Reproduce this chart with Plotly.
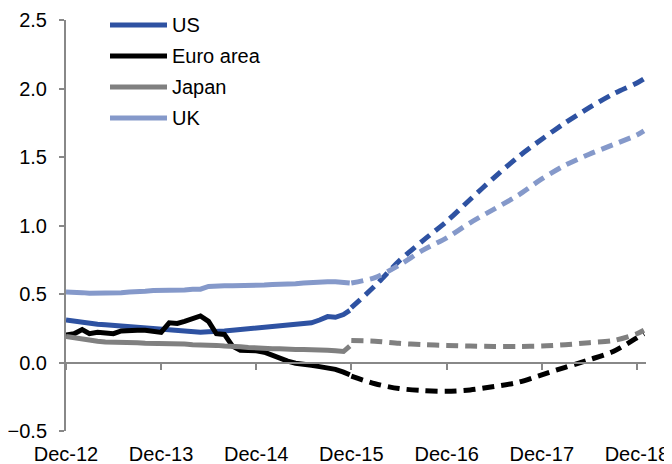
import pandas as pd
import plotly.graph_objects as go

# ---------------- data ----------------
series_names = ["US", "Euro area", "Japan", "UK"]
series_colors = ["#2E52A2", "#000000", "#808080", "#8599CA"]

# history (solid): month starts Dec-12 .. Nov-15 plus a final late-Nov-15 point
hist_dates = list(pd.date_range("2012-12-01", periods=36, freq="MS").strftime("%Y-%m-%d")) + ["2015-11-25"]
us_hist = [0.31, 0.30, 0.29, 0.285, 0.28, 0.275, 0.27, 0.265, 0.26, 0.255, 0.25, 0.245,
           0.24, 0.24, 0.235, 0.23, 0.225, 0.22, 0.225, 0.225, 0.23, 0.235, 0.24, 0.245,
           0.25, 0.255, 0.265, 0.27, 0.275, 0.28, 0.285, 0.29, 0.31, 0.335, 0.33, 0.35, 0.38]
euro_hist = [0.20, 0.21, 0.24, 0.21, 0.22, 0.215, 0.21, 0.23, 0.235, 0.235, 0.235, 0.225,
             0.22, 0.29, 0.285, 0.30, 0.32, 0.34, 0.30, 0.21, 0.205, 0.12, 0.09, 0.09,
             0.085, 0.075, 0.05, 0.03, 0.01, -0.005, -0.01, -0.02, -0.03, -0.04, -0.05, -0.07, -0.09]
japan_hist = [0.19, 0.18, 0.17, 0.16, 0.155, 0.15, 0.15, 0.145, 0.145, 0.145, 0.14, 0.14,
              0.14, 0.135, 0.135, 0.135, 0.13, 0.13, 0.13, 0.125, 0.12, 0.12, 0.115, 0.11,
              0.105, 0.10, 0.10, 0.10, 0.095, 0.095, 0.095, 0.095, 0.09, 0.09, 0.085, 0.08, 0.12]
uk_hist = [0.515, 0.515, 0.51, 0.505, 0.505, 0.505, 0.51, 0.51, 0.515, 0.515, 0.52, 0.525,
           0.525, 0.53, 0.53, 0.53, 0.535, 0.535, 0.555, 0.56, 0.56, 0.56, 0.56, 0.565,
           0.565, 0.565, 0.57, 0.57, 0.575, 0.575, 0.58, 0.585, 0.59, 0.59, 0.59, 0.585, 0.58]

# forward curves (dashed): quarterly Dec-15 .. Dec-18 plus end point
fcst_dates = list(pd.date_range("2015-12-01", periods=13, freq="3MS").strftime("%Y-%m-%d")) + ["2018-12-28"]
us_fcst = [0.40, 0.56, 0.74, 0.89, 1.03, 1.19, 1.35, 1.50, 1.63, 1.75, 1.86, 1.96, 2.04, 2.07]
euro_fcst = [-0.10, -0.155, -0.19, -0.205, -0.21, -0.20, -0.175, -0.145, -0.09, -0.035, 0.02, 0.08, 0.18, 0.21]
japan_fcst = [0.16, 0.155, 0.14, 0.13, 0.125, 0.12, 0.117, 0.117, 0.12, 0.13, 0.145, 0.16, 0.21, 0.235]
uk_fcst = [0.58, 0.62, 0.71, 0.82, 0.91, 1.02, 1.12, 1.22, 1.34, 1.44, 1.52, 1.59, 1.66, 1.69]

x_ticks = ["2012-12-01", "2013-12-01", "2014-12-01", "2015-12-01", "2016-12-01", "2017-12-01", "2018-12-01"]
x_tick_labels = ["Dec-12", "Dec-13", "Dec-14", "Dec-15", "Dec-16", "Dec-17", "Dec-18"]
y_ticks = [-0.5, 0.0, 0.5, 1.0, 1.5, 2.0, 2.5]
y_range = [-0.5, 2.5]
x_range = ["2012-12-01", "2019-01-05"]

hist_vals = [us_hist, euro_hist, japan_hist, uk_hist]
fcst_vals = [us_fcst, euro_fcst, japan_fcst, uk_fcst]

FONT = "Liberation Sans, Arial, sans-serif"
FS = 20
AXIS_COL = "#888888"

fig = go.Figure()
for name, col, h, f in zip(series_names, series_colors, hist_vals, fcst_vals):
    fig.add_trace(go.Scatter(x=hist_dates, y=h, mode="lines", name=name,
                             line=dict(color=col, width=5), showlegend=False, hoverinfo="skip"))
    fig.add_trace(go.Scatter(x=fcst_dates, y=f, mode="lines", name=name + " fwd",
                             line=dict(color=col, width=5, dash="12px,7px", shape="spline", smoothing=0.8),
                             showlegend=False, hoverinfo="skip"))

# page has an 8px body margin: the figure starts at (8, 8) in the window
OFF = 8
W, H = 672 - OFF, 464 - OFF
ml, mr, mt, mb = 66 - OFF, 26, 20 - OFF, 33
pw, ph = W - ml - mr, H - mt - mb

def px2paper(xp, yp):
    # xp, yp are window pixel positions
    return (xp - OFF - ml) / pw, (H - mb - (yp - OFF)) / ph

legend_rows_y = [25, 56, 87, 118]
for name, col, yp in zip(series_names, series_colors, legend_rows_y):
    x0, y0 = px2paper(110, yp)
    x1, _ = px2paper(167, yp)
    fig.add_shape(type="line", xref="paper", yref="paper", x0=x0, x1=x1, y0=y0, y1=y0,
                  line=dict(color=col, width=5))
    tx, ty = px2paper(170, yp)
    fig.add_annotation(xref="paper", yref="paper", x=tx, y=ty, text=name, showarrow=False,
                       xanchor="left", yanchor="middle", font=dict(family=FONT, size=FS, color="#000000"))

zero_pos = (0 - y_range[0]) / (y_range[1] - y_range[0])

fig.update_layout(
    width=W, height=H,
    margin=dict(l=ml, r=mr, t=mt, b=mb, pad=0, autoexpand=False),
    paper_bgcolor="white", plot_bgcolor="white",
    font=dict(family=FONT, size=FS, color="#000000"),
    showlegend=False,
    xaxis=dict(range=x_range, type="date", tickvals=x_ticks, ticktext=x_tick_labels,
               showgrid=False, zeroline=False, showline=True, linecolor=AXIS_COL, linewidth=2,
               ticks="outside", ticklen=6, tickwidth=2, tickcolor=AXIS_COL,
               anchor="free", position=zero_pos, ticklabelstandoff=67, automargin=False,
               tickfont=dict(family=FONT, size=FS, color="#000000")),
    yaxis=dict(range=y_range, tickvals=y_ticks, tickformat=".1f", automargin=False,
               showgrid=False, zeroline=False, showline=True, linecolor=AXIS_COL, linewidth=2,
               ticks="outside", ticklen=5, tickwidth=2, tickcolor=AXIS_COL, ticklabelstandoff=8,
               tickfont=dict(family=FONT, size=FS, color="#000000")),
)

fig.write_html("out.html")
